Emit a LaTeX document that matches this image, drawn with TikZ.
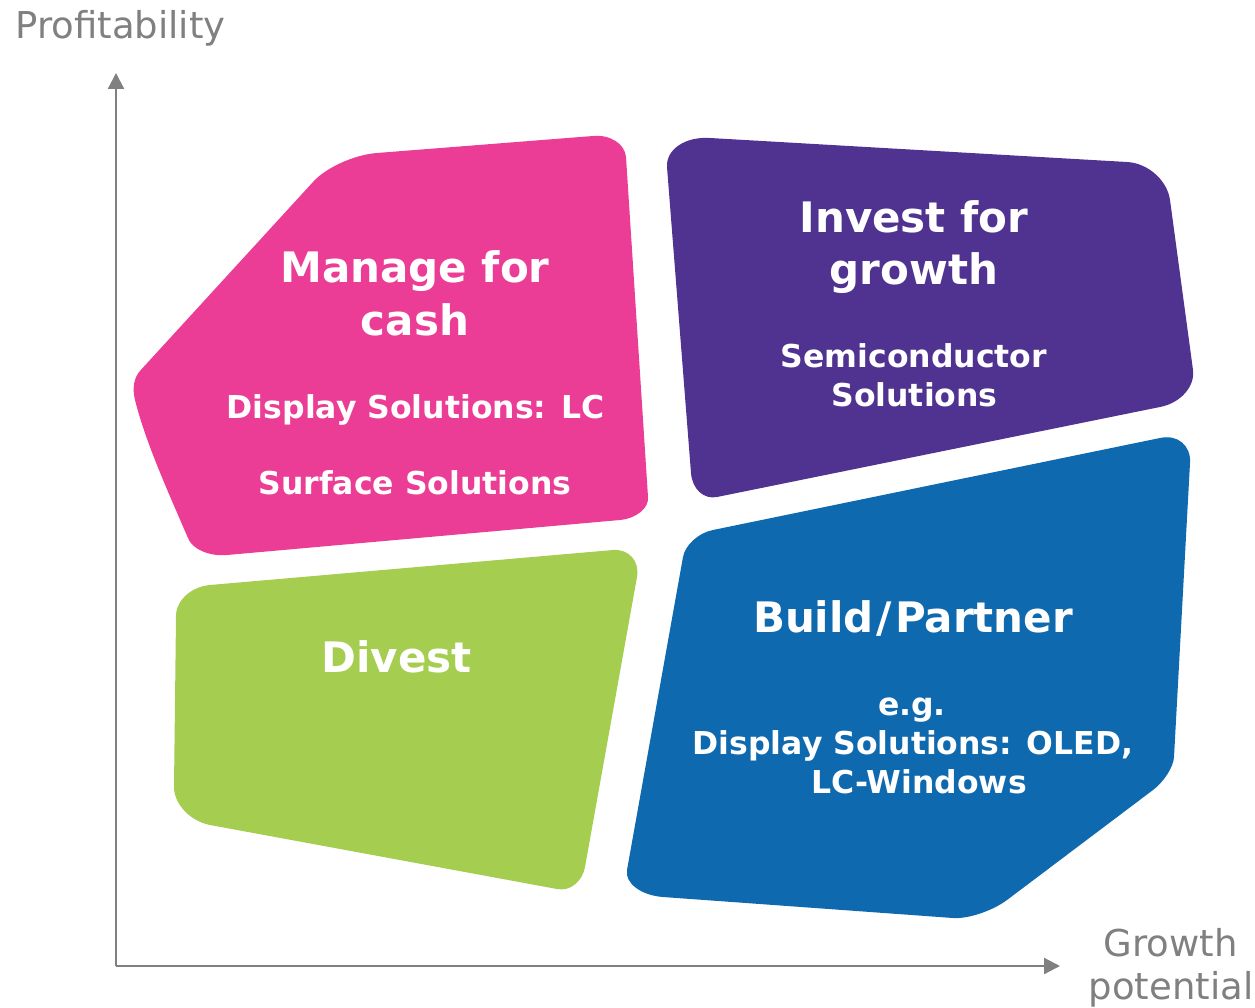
\documentclass[tikz,border=0pt]{standalone}
\usepackage{fontspec}
\setmainfont{DejaVu Sans}
\usetikzlibrary{calc,arrows.meta}
\definecolor{mpink}{HTML}{EB3C96}
\definecolor{mpurple}{HTML}{503291}
\definecolor{mblue}{HTML}{0F69AF}
\definecolor{mgreen}{HTML}{A5CD50}
\definecolor{axisgray}{HTML}{808080}
\begin{document}
\begin{tikzpicture}[x=1pt,y=-1pt,
  titletext/.style={text=white,inner sep=0pt,font=\fontsize{42}{52}\selectfont\bfseries,anchor=base},
  subtext/.style={text=white,inner sep=0pt,font=\fontsize{31.5}{39}\selectfont\bfseries,anchor=base},
  axlabel/.style={text=axisgray,inner sep=0pt,font=\fontsize{37}{42}\selectfont,anchor=base},
  axisline/.style={draw=axisgray,line width=2.2pt,-{Triangle[length=16pt,width=16pt]}}]
\useasboundingbox (0,0) rectangle (1255,1008);

% Manage for cash (pink)
\fill[mpink] (377,153) -- (593,136)
  .. controls ($(593,136)!0.55!(624,133)$) and ($(626,157)!0.55!(624,133)$) .. (626,157)
  -- (648,497)
  .. controls ($(648,497)!0.55!(650,517)$) and ($(620,520)!0.55!(650,517)$) .. (620,520)
  -- (227,555)
  .. controls ($(227,555)!0.55!(195,558)$) and ($(188,538)!0.55!(195,558)$) .. (188,538)
  .. controls (165,485) and (145,440) .. (135,400)
  .. controls (132,388) and (134,377) .. (140.8,370)
  -- (313,182)
  .. controls ($(313,182)!0.55!(336,156)$) and ($(377,153)!0.55!(336,156)$) .. (377,153) -- cycle;

% Invest for growth (purple)
\fill[mpurple] (710,138) -- (1127,162)
  .. controls ($(1127,162)!0.55!(1165,164)$) and ($(1170,200)!0.55!(1165,164)$) .. (1170,200)
  -- (1193,370)
  .. controls ($(1193,370)!0.55!(1197,400)$) and ($(1160,407)!0.55!(1197,400)$) .. (1160,407)
  -- (717,497)
  .. controls ($(717,497)!0.55!(693,502)$) and ($(691,473)!0.55!(693,502)$) .. (691,473)
  -- (667,167)
  .. controls ($(667,167)!0.55!(665,135)$) and ($(710,138)!0.55!(665,135)$) .. (710,138) -- cycle;

% Build/Partner (blue)
\fill[mblue] (713,530) -- (1160,438)
  .. controls ($(1160,438)!0.55!(1192,431)$) and ($(1190,463)!0.55!(1192,431)$) .. (1190,463)
  -- (1174,757)
  .. controls ($(1174,757)!0.55!(1173,775)$) and ($(1153,790)!0.55!(1173,775)$) .. (1153,790)
  -- (1007,900)
  .. controls ($(1007,900)!0.55!(980,920)$) and ($(953,918)!0.55!(980,920)$) .. (953,918)
  -- (663,897)
  .. controls ($(663,897)!0.55!(623,894)$) and ($(627,870)!0.55!(623,894)$) .. (627,870)
  -- (683,557)
  .. controls ($(683,557)!0.55!(687,535)$) and ($(713,530)!0.55!(687,535)$) .. (713,530) -- cycle;

% Divest (green)
\fill[mgreen] (210,585) -- (613,550)
  .. controls ($(613,550)!0.55!(642,548)$) and ($(637,577)!0.55!(642,548)$) .. (637,577)
  -- (585,867)
  .. controls ($(585,867)!0.55!(580,894)$) and ($(557,889)!0.55!(580,894)$) .. (557,889)
  -- (210,825)
  .. controls ($(210,825)!0.55!(174,818)$) and ($(174,787)!0.55!(174,818)$) .. (174,787)
  -- (176,617)
  .. controls ($(176,617)!0.55!(175,588)$) and ($(210,585)!0.55!(175,588)$) .. (210,585) -- cycle;

% axes
\coordinate (origin) at (116,966);
\coordinate (ytip) at (116,73);
\coordinate (xtip) at (1060,966);
\draw[axisline] (origin) -- (ytip);
\draw[axisline] (origin) -- (xtip);

\node[axlabel] (ylab) at (120.5,39) {Profitability};
\node[axlabel] (xlab1) at (1170.5,956) {Growth};
\node[axlabel] (xlab2) at (1171,999) {potential};

% pink texts
\node[titletext] (mc1) at (415,283) {Manage for};
\node[titletext] (mc2) at (415,335) {cash};
\node[subtext] (mc3) at (415.5,418) {Display Solutions: LC};
\node[subtext] (mc4) at (415,494) {Surface Solutions};

% purple texts
\node[titletext] (ig1) at (914,233) {Invest for};
\node[titletext] (ig2) at (914,284) {growth};
\node[subtext] (ig3) at (914,367) {Semiconductor};
\node[subtext] (ig4) at (914.5,406) {Solutions};

% blue texts
\node[titletext] (bp1) at (913,632) {Build\kern3pt/\kern3pt Partner};
\node[subtext] (bp2) at (912,715) {e.g.};
\node[subtext] (bp3) at (913,754) {Display Solutions: OLED,};
\node[subtext] (bp4) at (919,793) {LC-Windows};

% green text
\node[titletext] (dv) at (396.5,672) {Divest};
\end{tikzpicture}
\end{document}
